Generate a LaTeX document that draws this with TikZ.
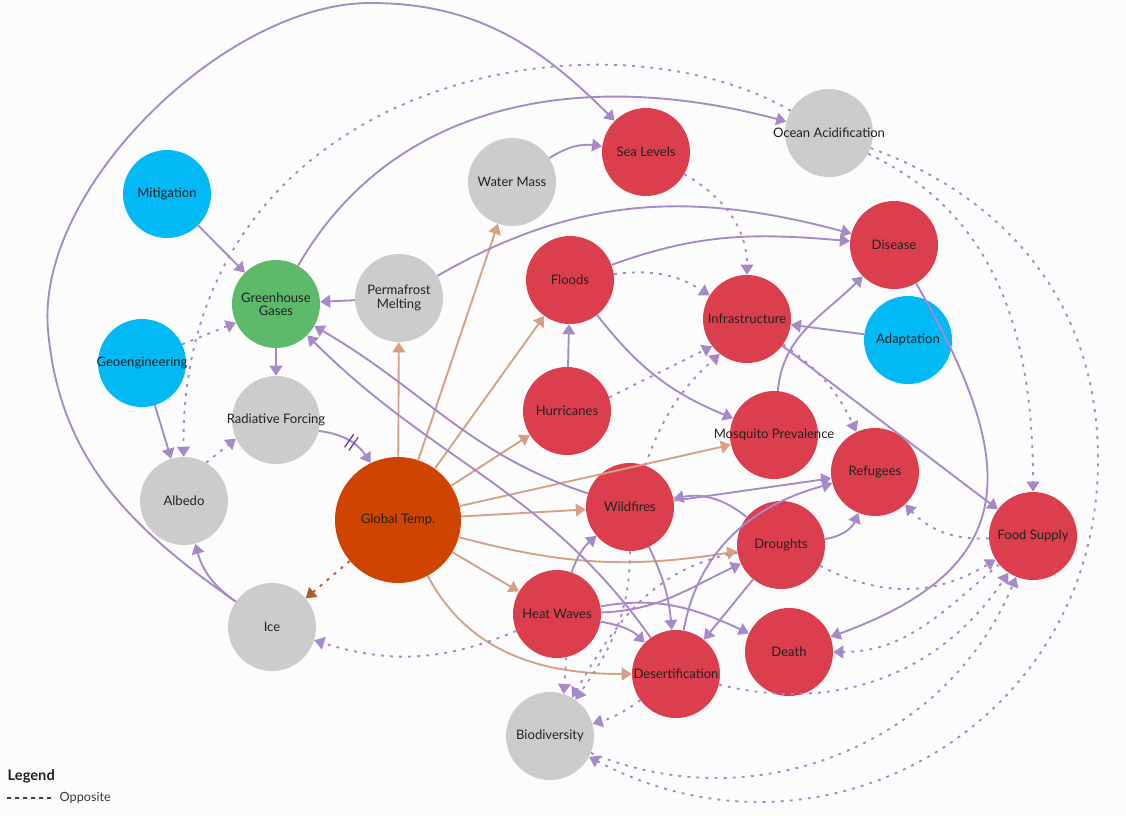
\documentclass[tikz,border=0pt]{standalone}
\usepackage{fontspec}
\setmainfont{Lato}
\usetikzlibrary{arrows.meta,decorations.markings}
\definecolor{bgc}{RGB}{252,252,252}
\definecolor{redc}{RGB}{219,62,76}
\definecolor{grayc}{RGB}{204,204,204}
\definecolor{bluec}{RGB}{0,185,245}
\definecolor{greenc}{RGB}{92,186,106}
\definecolor{orangec}{RGB}{206,68,0}
\definecolor{purp}{RGB}{166,137,202}
\definecolor{dpurp}{RGB}{104,64,160}
\definecolor{tanc}{RGB}{214,160,130}
\definecolor{rustc}{RGB}{184,88,48}
\definecolor{txt}{RGB}{34,34,34}
\definecolor{legtxt}{RGB}{60,60,60}
\newcommand{\widelbl}[1]{\makebox[0pt]{#1}}

\begin{document}
\begin{tikzpicture}[x=0.75pt,y=0.75pt,font=\fontsize{9.8}{10}\selectfont,
  nd/.style={circle,fill=#1,minimum size=66pt,inner sep=0pt,align=center,text=txt},
  same/.style={draw=purp,line width=1.4pt,-{Triangle[length=7.5pt,width=9.5pt]}},
  opp/.style={same,dash pattern=on 2.2pt off 4.6pt},
  warm/.style={same,draw=tanc},
  bars/.style={postaction={decorate},decoration={markings,mark=at position 0.55 with
    {\draw[dpurp,line width=1pt,-,solid] (-2pt,-6pt)--(-2pt,6pt) (2pt,-6pt)--(2pt,6pt);}}},
  legdash/.style={draw=legtxt,line width=0.8pt,dash pattern=on 3pt off 3pt}]
\path[use as bounding box,fill=bgc] (0,0) rectangle (1126,-815);
% factors
\node[nd=bluec] (mit) at (167,-194) {Mitigation};
\node[nd=bluec] (geo) at (142,-363) {\widelbl{Geoengineering}};
\node[nd=greenc] (ghg) at (276,-304) {Greenhouse\\Gases};
\node[nd=grayc] (perm) at (399,-298) {Permafrost\\Melting};
\node[nd=grayc] (water) at (512,-182) {Water Mass};
\node[nd=redc] (sea) at (646,-152) {Sea Levels};
\node[nd=grayc] (ocean) at (829,-133) {\widelbl{Ocean Acidification}};
\node[nd=redc] (dis) at (894,-245) {Disease};
\node[nd=redc] (flood) at (570,-280) {Floods};
\node[nd=redc] (infra) at (747,-319) {Infrastructure};
\node[nd=bluec] (adapt) at (908,-340) {Adaptation};
\node[nd=grayc] (rf) at (276,-420) {\widelbl{Radiative Forcing}};
\node[nd=grayc] (alb) at (184,-501) {Albedo};
\node[nd=orangec,minimum size=94.5pt] (gt) at (398,-520) {Global Temp.};
\node[nd=redc] (hur) at (567,-411) {Hurricanes};
\node[nd=redc] (mosq) at (774,-435) {\widelbl{Mosquito Prevalence}};
\node[nd=redc] (ref) at (875,-472) {Refugees};
\node[nd=redc] (wild) at (630,-507) {Wildfires};
\node[nd=redc] (drou) at (781,-545) {Droughts};
\node[nd=redc] (food) at (1033,-536) {Food Supply};
\node[nd=redc] (heat) at (557,-614) {Heat Waves};
\node[nd=grayc] (ice) at (272,-627) {Ice};
\node[nd=redc] (death) at (789,-652) {Death};
\node[nd=redc] (desert) at (676,-674) {\widelbl{Desertification}};
\node[nd=grayc] (bio) at (550,-736) {Biodiversity};
% warming
\draw[warm] (gt) -- (perm);
\draw[warm] (gt) -- (water);
\draw[warm] (gt) -- (flood);
\draw[warm] (gt) -- (hur);
\draw[warm] (gt) -- (mosq);
\draw[warm] (gt) -- (wild);
\draw[warm] (gt) to[bend right=12] (drou);
\draw[warm] (gt) -- (heat);
\draw[warm] (gt) to[out=-62,in=180] (desert);
\draw[opp,draw=rustc] (gt) -- (ice);
% same direction
\draw[same] (mit) -- (ghg);
\draw[same] (ghg) -- (rf);
\draw[same] (perm) -- (ghg);
\draw[same] (geo) -- (alb);
\draw[same] (ice) to[bend left=20] (alb);
\draw[same] (ice) to[out=145,in=-85] (48,-330) to[out=95,in=180,looseness=0.8] (370,-3) to[out=0,in=135] (sea);
\draw[same] (water) to[bend left=20] (sea);
\draw[same] (ghg) to[out=60,in=165] (ocean);
\draw[same] (perm) to[out=30,in=165] (dis);
\draw[same] (flood) to[out=20,in=175] (dis);
\draw[same] (flood) to[bend right=15] (mosq);
\draw[same] (hur) -- (flood);
\draw[same,bars] (rf) to[bend left=25] (gt);
\draw[same] (adapt) -- (infra);
\draw[same] (infra) -- (food);
\draw[same] (mosq) to[out=85,in=-135] (dis);
\draw[same] (dis) to[out=-60,in=20,looseness=1.45] (death);
\draw[same] (wild) to[out=162,in=-30] (ghg);
\draw[same] (desert) to[out=125,in=-45] (ghg);
\draw[same] (drou) to[bend right=25] (wild);
\draw[same] (wild) -- (ref);
\draw[same] (desert) to[out=80,in=-165] (ref);
\draw[same] (drou) to[bend right=30] (ref);
\draw[same] (wild) to[bend left=10] (desert);
\draw[same] (heat) to[bend left=15] (wild);
\draw[same] (heat) to[out=2,in=-155] (drou);
\draw[same] (heat) to[out=10,in=155] (death);
\draw[same] (heat) to[out=-10,in=135] (desert);
\draw[same] (drou) -- (desert);
% opposite direction
\draw[opp] (geo.25) -- (ghg.-155);
\draw[opp] (ocean) .. controls (600,0) and (180,-80) .. (alb);
\draw[opp] (alb.60) -- (rf.205);
\draw[opp] (sea) to[out=-30,in=90] (infra);
\draw[opp] (flood) to[bend left=20] (infra);
\draw[opp] (hur.18) -- (infra.-142);
\draw[opp] (wild.70) to[bend left=14] (infra.-128);
\draw[opp] (infra) to[bend left=15] (ref);
\draw[opp] (ocean.-28) to[out=-25,in=90] (food);
\draw[opp] (ocean.-20) to[out=-20,in=90] (1098,-460) to[out=-90,in=-28,looseness=1.15] (bio);
\draw[opp] (food) to[bend left=25] (ref);
\draw[opp] (drou) to[bend right=30] (food);
\draw[opp] (food) to[out=-140,in=0] (death);
\draw[opp] (desert) to[bend right=35] (food);
\draw[opp] (bio) to[bend right=45] (food);
\draw[opp] (heat) to[bend left=20] (ice);
\draw[opp] (heat.-78) -- (bio.72);
\draw[opp] (wild) to[out=-90,in=55] (bio);
\draw[opp] (drou) to[out=190,in=60] (bio);
\draw[opp] (desert) to[bend left=10] (bio);
% legend
\node[anchor=west,font=\fontsize{11}{13}\selectfont\bfseries,text=txt] (legtitle) at (3,-776) {Legend};
\coordinate (legfrom) at (7,-798);
\node[anchor=west,font=\fontsize{9.5}{11}\selectfont,text=legtxt] (legopp) at (55,-798) {Opposite};
\draw[legdash] (legfrom) -- (legopp.west);
\end{tikzpicture}
\end{document}
